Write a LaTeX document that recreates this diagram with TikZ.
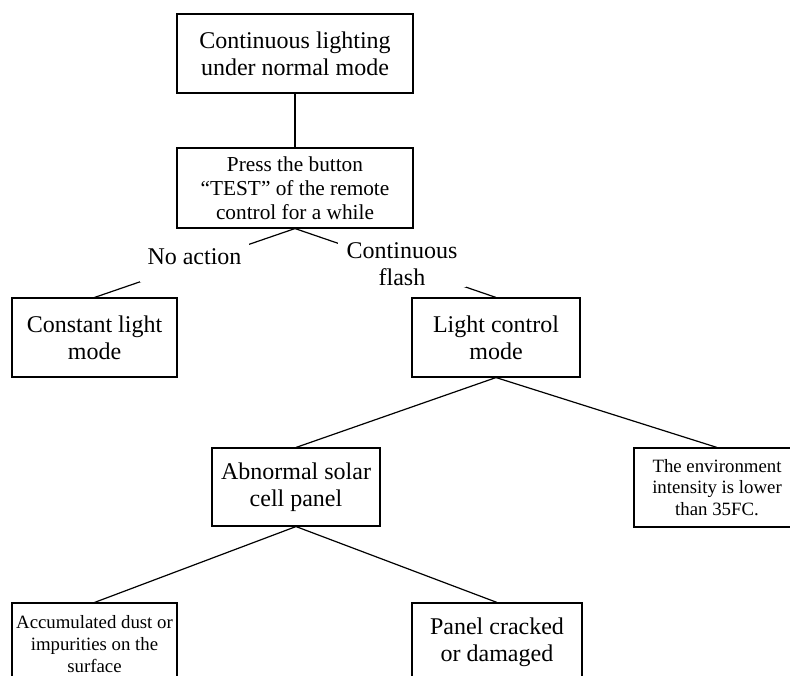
\documentclass[tikz,border=0pt]{standalone}
\usepackage{fontspec}
\setmainfont{Liberation Serif}
\tikzset{
  box/.style={draw=black, line width=1.1pt, rectangle, align=center, inner sep=0pt, fill=white},
  bigtxt/.style={font=\fontsize{24}{27}\selectfont},
  midtxt/.style={font=\fontsize{21.3}{24}\selectfont},
  smalltxt/.style={font=\fontsize{18.8}{21.8}\selectfont},
  conn/.style={draw=black, line width=1.2pt},
  lbl/.style={fill=white, inner sep=0pt, align=center, font=\fontsize{24}{27}\selectfont}
}
\begin{document}
\begin{tikzpicture}[x=1pt,y=-1pt]
\useasboundingbox (0,0) rectangle (790,675);
\clip (0,0) rectangle (790,675);
\fill[white] (0,0) rectangle (790,675);
\node[box,bigtxt,minimum width=236pt,minimum height=79pt] (top) at (295,53.5) {Continuous lighting\\under normal mode};
\node[box,midtxt,minimum width=236pt,minimum height=80pt] (press) at (295,188) {Press the button\\``TEST'' of the remote\\control for a while};
\node[box,bigtxt,minimum width=165pt,minimum height=79pt] (const) at (94.5,337.5) {Constant light\\mode};
\node[box,bigtxt,minimum width=168pt,minimum height=79pt] (light) at (496,337.5) {Light control\\mode};
\node[box,bigtxt,minimum width=168pt,minimum height=78pt] (abn) at (296,487) {Abnormal solar\\cell panel};
\node[box,smalltxt,minimum width=166pt,minimum height=79pt] (env) at (717,487.5) {The environment\\intensity is lower\\than 35FC.};
\node[box,smalltxt,minimum width=165pt,minimum height=82pt] (dust) at (94.5,644) {Accumulated dust or\\impurities on the\\surface};
\node[box,bigtxt,minimum width=170pt,minimum height=79pt] (panel) at (497,642.5) {Panel cracked\\or damaged};
\draw[conn] (top.south) -- (press.north);
\draw[conn] (press.south) -- (const.north);
\draw[conn] (press.south) -- (light.north);
\draw[conn] (light.south) -- (abn.north);
\draw[conn] (light.south) -- (env.north);
\draw[conn] (abn.south) -- (dust.north);
\draw[conn] (abn.south) -- (panel.north);
\node[lbl,minimum width=109pt,minimum height=50pt] (noact) at (194.5,257) {No action};
\node[lbl,minimum width=128pt,minimum height=45pt] (flash) at (402,264.5) {Continuous\\flash};
\end{tikzpicture}
\end{document}
